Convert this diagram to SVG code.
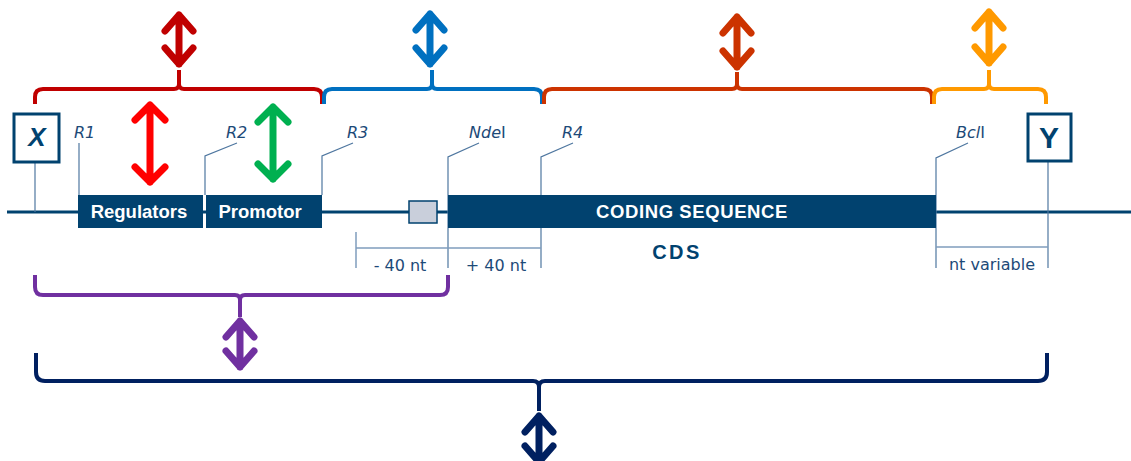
<svg xmlns="http://www.w3.org/2000/svg" width="1131" height="461" viewBox="0 0 1131 461">
<style>
.arrow{fill:none;stroke-width:7;stroke-linecap:round;stroke-linejoin:round}
.brace{fill:none;stroke-width:4;stroke-linecap:butt;stroke-linejoin:round}
.leader{fill:none;stroke:#4f77a0;stroke-width:1.2}
.dim{fill:none;stroke:#7f9dbd;stroke-width:1.5}
.box{fill:#01426f}
.lbl{font-family:"DejaVu Sans",Verdana,sans-serif;fill:#1d4a78;font-style:italic;font-size:16px}
.wt{font-family:"Liberation Sans",Arial,sans-serif;fill:#ffffff;font-weight:bold;font-size:18.5px;text-anchor:middle}
.nt{font-family:"DejaVu Sans",Verdana,sans-serif;fill:#1d4a78;font-size:16px;text-anchor:middle}
</style>
<rect width="1131" height="461" fill="#ffffff"/>
<g id="connectors">
  <line x1="7" y1="212" x2="1131" y2="212" stroke="#01426f" stroke-width="3"/>
  <line class="leader" x1="35" y1="163" x2="35" y2="212"/>
  <line class="leader" x1="1048" y1="162" x2="1048" y2="268"/>
  <polyline class="leader" points="79,143 79,195"/>
  <polyline class="leader" points="237,143 205,156 205,195"/>
  <polyline class="leader" points="353,143 322,156 322,195"/>
  <polyline class="leader" points="479,143 448,157 448,268"/>
  <polyline class="leader" points="573,143 541,157 541,268"/>
  <polyline class="leader" points="968,143 936,158 936,268"/>
  <line class="dim" x1="356" y1="232" x2="356" y2="268"/>
  <line class="dim" x1="356" y1="248" x2="541" y2="248"/>
  <line class="dim" x1="936" y1="247" x2="1048" y2="247"/>
</g>
<g id="X">
  <rect x="14" y="114" width="45" height="48" fill="#fff" stroke="#01426f" stroke-width="3"/>
  <text x="37" y="146" font-family="Liberation Sans,Arial,sans-serif" font-weight="bold" font-style="italic" font-size="26" fill="#01426f" text-anchor="middle">X</text>
</g>
<g id="Y">
  <rect x="1028" y="114" width="43" height="47" fill="#fff" stroke="#01426f" stroke-width="3"/>
  <text x="1049" y="148" font-family="Liberation Sans,Arial,sans-serif" font-weight="bold" font-size="30" fill="#01426f" text-anchor="middle">Y</text>
</g>
<g id="labels">
  <text class="lbl" x="74" y="138">R1</text>
  <text class="lbl" x="226" y="138">R2</text>
  <text class="lbl" x="347" y="138">R3</text>
  <text class="lbl" x="469" y="138">Nde<tspan font-style="normal">I</tspan></text>
  <text class="lbl" x="562" y="138">R4</text>
  <text class="lbl" x="956" y="138">Bcl<tspan font-style="normal">I</tspan></text>
</g>
<g id="regulators">
  <rect class="box" x="78" y="195" width="125" height="33"/>
  <text class="wt" x="139" y="218">Regulators</text>
</g>
<g id="promotor">
  <rect class="box" x="206" y="195" width="116" height="33"/>
  <text class="wt" x="260" y="218">Promotor</text>
</g>
<g id="smallbox">
  <rect x="409" y="201" width="28" height="22" fill="#c9cfdb" stroke="#01426f" stroke-width="1.5"/>
</g>
<g id="cds">
  <rect class="box" x="448" y="195" width="488" height="33"/>
  <text class="wt" x="692" y="218" font-size="19" letter-spacing="0.6">CODING SEQUENCE</text>
  <text x="677" y="259" font-family="Liberation Sans,Arial,sans-serif" font-weight="bold" font-size="20" letter-spacing="2.5" fill="#01426f" text-anchor="middle">CDS</text>
</g>
<g id="dimlabels">
  <text class="nt" x="400" y="271">- 40 nt</text>
  <text class="nt" x="496" y="271">+ 40 nt</text>
  <text class="nt" x="992" y="270">nt variable</text>
</g>
<g id="brace-darkred">
  <path class="brace" stroke="#c00000" d="M35,104 V97 Q35,89 43,89 H174 Q179,89 179,84 V70 M179,84 Q179,89 184,89 H314 Q322,89 322,97 V104"/>
  <path class="arrow" stroke="#c00000" d="M179,15 V64 M165,31 L179,15 L193,31 M165,48 L179,64 L193,48"/>
</g>
<g id="brace-blue">
  <path class="brace" stroke="#0070c0" d="M324,104 V97 Q324,89 332,89 H427 Q432,89 432,84 V70 M432,84 Q432,89 437,89 H534 Q542,89 542,97 V104"/>
  <path class="arrow" stroke="#0070c0" d="M430,14 V64 M416,30 L430,14 L444,30 M416,48 L430,64 L444,48"/>
</g>
<g id="brace-redorange">
  <path class="brace" stroke="#cc3300" d="M544,104 V97 Q544,89 552,89 H732 Q737,89 737,84 V72 M737,84 Q737,89 742,89 H924 Q932,89 932,97 V104"/>
  <path class="arrow" stroke="#cc3300" d="M737,17 V67 M723,33 L737,17 L751,33 M723,51 L737,67 L751,51"/>
</g>
<g id="brace-orange">
  <path class="brace" stroke="#ff9900" d="M934,104 V97 Q934,89 942,89 H984 Q989,89 989,84 V70 M989,84 Q989,89 994,89 H1038 Q1046,89 1046,97 V104"/>
  <path class="arrow" stroke="#ff9900" d="M989,12 V63 M975,28 L989,12 L1003,28 M975,47 L989,63 L1003,47"/>
</g>
<g id="arrow-red">
  <path class="arrow" stroke="#ff0000" d="M150,105 V182 M135,120 L150,105 L165,120 M135,167 L150,182 L165,167"/>
</g>
<g id="arrow-green">
  <path class="arrow" stroke="#00b050" d="M273,107 V179 M258,122 L273,107 L288,122 M258,164 L273,179 L288,164"/>
</g>
<g id="brace-purple">
  <path class="brace" stroke="#7030a0" d="M35,275 V287 Q35,295 43,295 H235 Q240,295 240,300 V317 M240,300 Q240,295 245,295 H440 Q448,295 448,287 V275"/>
  <path class="arrow" stroke="#7030a0" d="M240,321 V367 M226,337 L240,321 L254,337 M226,351 L240,367 L254,351"/>
</g>
<g id="brace-navy">
  <path class="brace" stroke="#002060" d="M36,353 V372 Q36,381 45,381 H533 Q539,381 539,387 V411 M539,387 Q539,381 545,381 H1038 Q1047,381 1047,372 V353"/>
  <path class="arrow" stroke="#002060" d="M539,416 V462 M525,432 L539,416 L553,432 M525,446 L539,462 L553,446"/>
</g>
</svg>
